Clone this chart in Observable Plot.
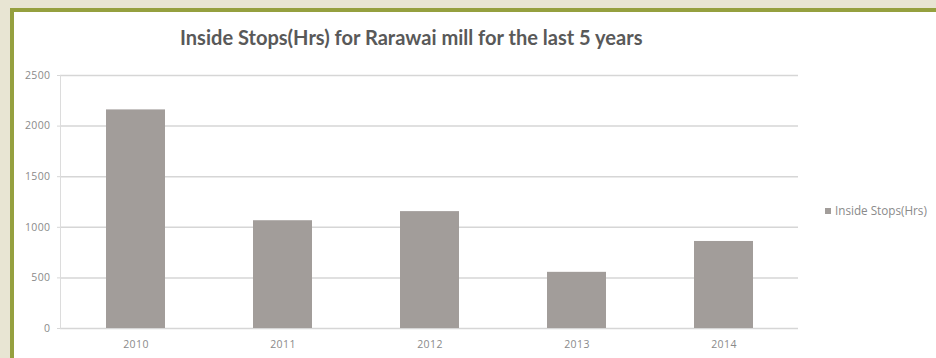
<!DOCTYPE html>
<html>
<head>
<meta charset="utf-8">
<script src="https://cdn.jsdelivr.net/npm/d3@7"></script>
<script src="https://cdn.jsdelivr.net/npm/@observablehq/plot@0.6"></script>
<style>
  html, body { margin: 0; padding: 0; }
  body { width: 936px; height: 358px; background: #e8e5d3; position: relative; overflow: hidden; font-family: Lato, "Open Sans", sans-serif; }
  #frame { position: absolute; left: 10px; top: 8px; width: 926px; height: 350px; background: #ffffff;
           border-top: 4px solid #95a03f; border-left: 4px solid #95a03f; box-sizing: border-box; }
  #title { position: absolute; left: 180px; top: 27px; font-weight: 700; font-size: 17px; color: #595959;
           white-space: nowrap; font-family: Lato, sans-serif; line-height: 20px; }
  #chart { position: absolute; left: 14px; top: 55px; }
  #legend { position: absolute; left: 825px; top: 203px; font-size: 10px; color: #8a8a8a; white-space: nowrap; font-family: "Open Sans", sans-serif; line-height: 14px; }
  #legend .sw { display: inline-block; width: 6px; height: 6px; background: #a29d9a; margin-right: 4px; vertical-align: 1px; }
  #legend .tx { display: inline-block; }
</style>
</head>
<body>
<div id="frame"></div>
<div id="title">Inside Stops(Hrs) for Rarawai mill for the last 5 years</div>
<div id="chart"></div>
<div id="legend"><span class="sw"></span><span class="tx">Inside Stops(Hrs)</span></div>
<script>
const years = ["2010", "2011", "2012", "2013", "2014"];
const stops = [2160, 1065, 1155, 555, 860];
const yTicks = [0, 500, 1000, 1500, 2000, 2500];

const data = years.map((y, i) => ({year: y, value: stops[i]}));

// fit title and legend widths to reference
const t = document.getElementById("title");
t.style.fontSize = (17 * 463 / t.getBoundingClientRect().width) + "px";
const lt = document.querySelector("#legend .tx");
lt.parentNode.style.fontSize = (10 * 92 / lt.getBoundingClientRect().width) + "px";

const chart = Plot.plot({
  width: 922,
  height: 303,
  marginLeft: 46,
  marginRight: 138,
  marginTop: 20,
  marginBottom: 30,
  style: {background: "transparent", fontFamily: "'Open Sans', sans-serif", fontSize: "10.5px", color: "#8a8a8a", letterSpacing: "0.4px"},
  x: {domain: years, paddingInner: 0.6, paddingOuter: 0.3, label: null},
  y: {domain: [0, 2500], ticks: yTicks, label: null},
  marks: [
    Plot.gridY(yTicks, {stroke: "#d6d6d6", strokeOpacity: 1, strokeWidth: 1.5}),
    Plot.frame({anchor: "left", stroke: "#dcdcdc"}),
    Plot.axisY({ticks: yTicks, tickFormat: "d", tickSize: 3, stroke: "#d6d6d6", fill: "#8a8a8a", tickPadding: 7, label: null}),
    Plot.axisX({tickSize: 0, tickPadding: 12, fill: "#8a8a8a", label: null}),
    Plot.barY(data, {x: "year", y: "value", fill: "#a29d9a"})
  ]
});
document.getElementById("chart").appendChild(chart);
</script>
</body>
</html>
